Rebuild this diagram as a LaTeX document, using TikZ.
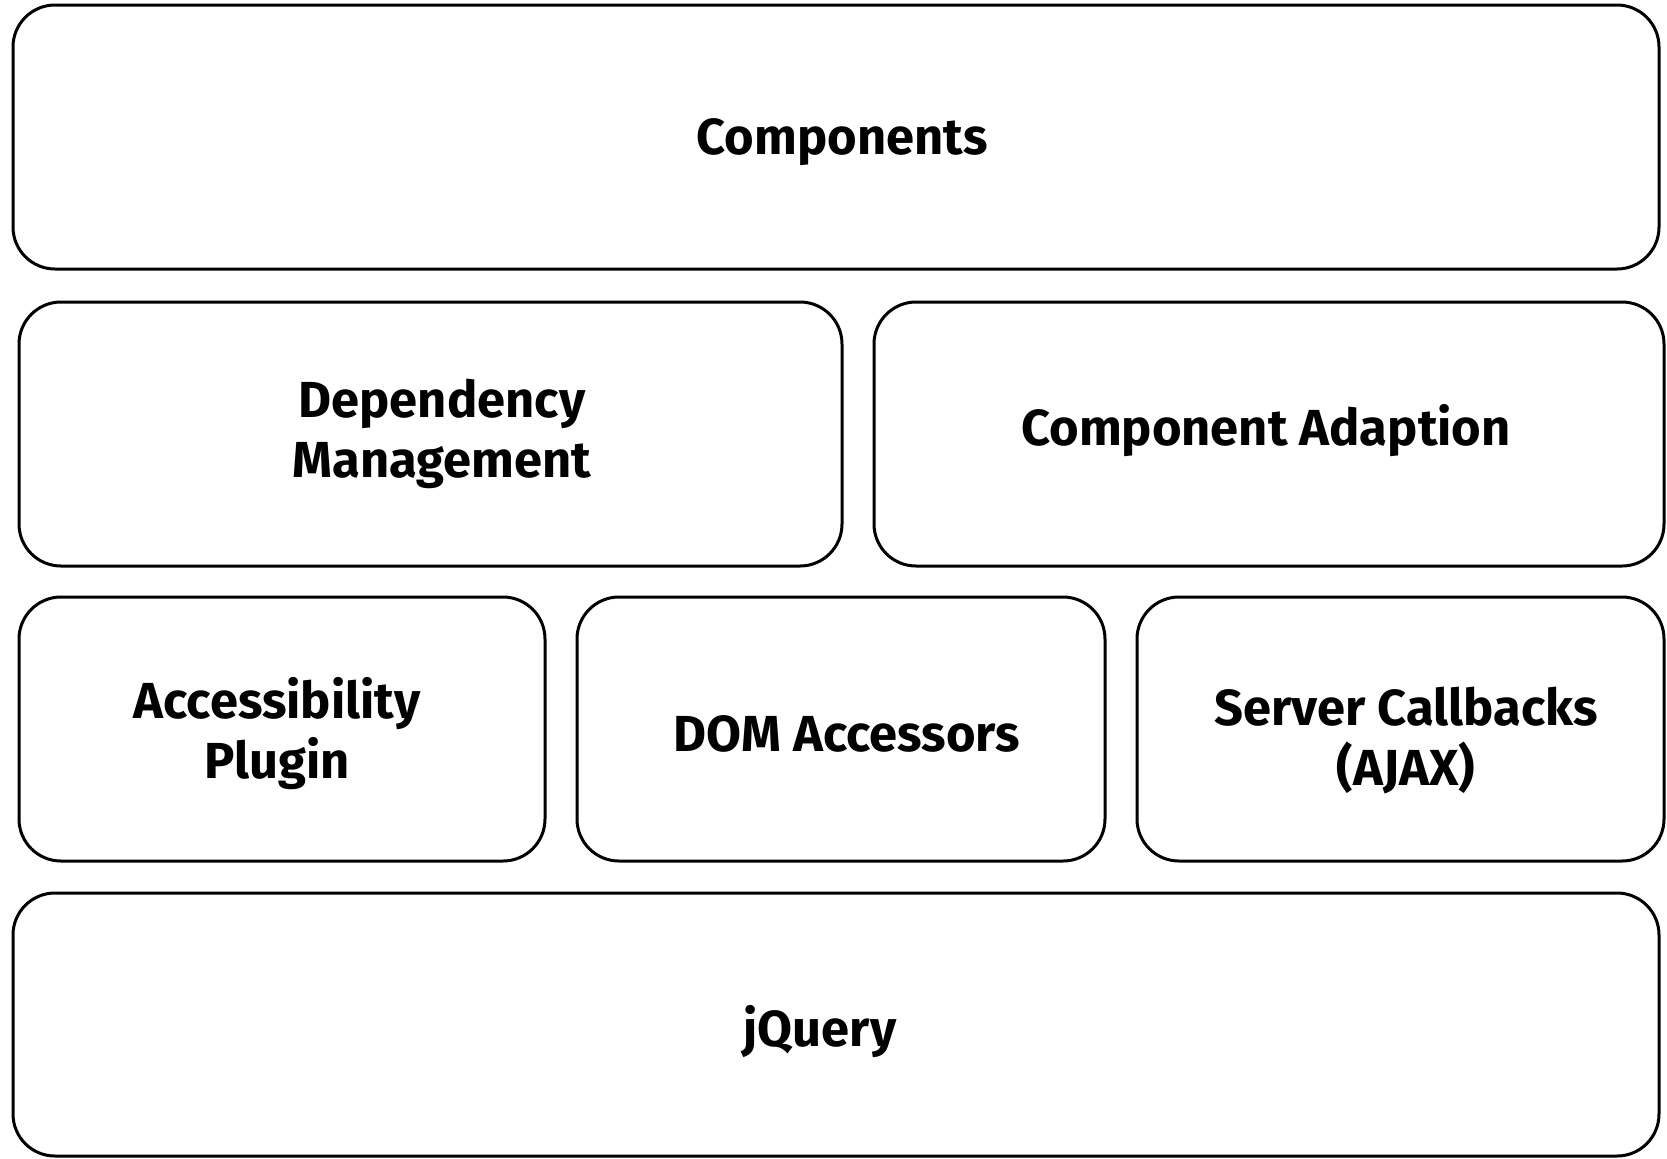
\documentclass[tikz,border=0pt]{standalone}
\usepackage{fontspec}
\setmainfont{Fira Sans}

\tikzset{every picture/.style={line width=2.25pt}}
\tikzset{layer/.style={rounded corners=31.5pt}}
\tikzset{label/.style={anchor=center, inner sep=0.75pt, align=center, font=\fontsize{38}{45}\selectfont\bfseries}}

\begin{document}
\begin{tikzpicture}[x=0.75pt,y=0.75pt,yscale=-1,xscale=1]
\useasboundingbox (0,0) rectangle (1667,1158);

%Rounded Rect: top layer
\draw [layer] (13,5) rectangle (1659,269) ;
%Rounded Rect: second layer
\draw [layer] (19,302) rectangle (842,566) ;
\draw [layer] (874,302) rectangle (1664,566) ;
%Rounded Rect: third layer
\draw [layer] (19,597) rectangle (545,861) ;
\draw [layer] (577,597) rectangle (1105,861) ;
\draw [layer] (1137,597) rectangle (1664,861) ;
%Rounded Rect: bottom layer
\draw [layer] (13,893) rectangle (1659,1156) ;

% Text Node
\draw (842,142) node (components) [label] {Components};
% Text Node
\draw (442,434) node (depmgmt) [label] {Dependency\\Management};
% Text Node
\draw (1266,431) node (adaption) [label] {Component Adaption};
% Text Node
\draw (277,734) node (access) [label] {Accessibility\\Plugin};
% Text Node
\draw (847,734) node (dom) [label] {DOM Accessors};
% Text Node
\draw (1406,741) node (server) [label] {Server Callbacks\\(AJAX)};
% Text Node
\draw (820,1032) node (jquery) [label] {jQuery};

\end{tikzpicture}
\end{document}
